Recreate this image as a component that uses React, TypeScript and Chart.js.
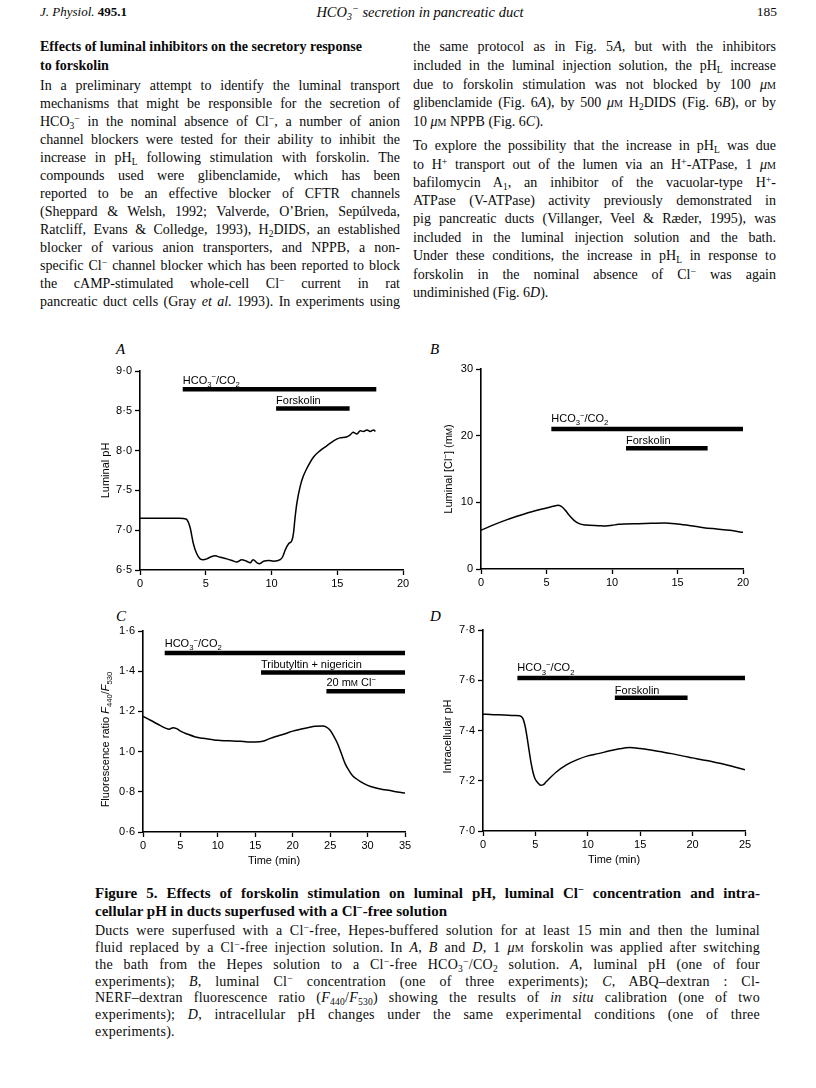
import React, { useEffect, useRef } from 'react';
import { Chart, registerables } from 'chart.js';

Chart.register(...registerables);

// ---------------- Panel A : luminal pH ----------------
const timeA = [0, 1, 2, 3, 3.5, 3.8, 4.06, 4.3, 4.57, 4.8, 5.08, 5.33, 5.7, 6.1, 6.6, 7.0, 7.36, 7.74, 8.1, 8.38, 8.6, 8.9, 9.1, 9.4, 9.8, 10.15, 10.66, 10.86, 11.04, 11.3, 11.55, 11.67, 11.8, 11.93, 12.18, 12.4, 12.7, 13.2, 13.7, 14.2, 14.7, 15.2, 15.7, 16.0, 16.2, 16.5, 16.75, 17.0, 17.26, 17.5, 17.77, 17.9];
const phA = [7.15, 7.15, 7.15, 7.15, 7.14, 7.04, 6.83, 6.71, 6.64, 6.63, 6.64, 6.66, 6.68, 6.66, 6.64, 6.62, 6.60, 6.63, 6.61, 6.59, 6.63, 6.59, 6.58, 6.61, 6.62, 6.61, 6.63, 6.67, 6.75, 6.83, 6.87, 6.96, 7.17, 7.34, 7.55, 7.67, 7.78, 7.92, 8.00, 8.06, 8.12, 8.16, 8.17, 8.20, 8.23, 8.21, 8.25, 8.24, 8.26, 8.24, 8.26, 8.24];
const barStartA = [3.25, 10.35];
const barEndA = [17.97, 15.94];
const barLevelA = [8.77, 8.53];
const barLabelA = ['HCO_3^−/CO_2', 'Forskolin'];
const labelLevelA = [8.89, 8.64];

// ---------------- Panel B : luminal [Cl-] ----------------
const timeB = [0, 1, 2, 3, 4, 5, 5.5, 5.9, 6.2, 6.5, 6.8, 7.1, 7.5, 8, 9, 9.5, 10, 10.5, 11, 12, 13, 14, 15, 16, 17, 18, 19, 20];
const clB = [5.8, 6.65, 7.4, 8.05, 8.65, 9.15, 9.4, 9.55, 9.3, 8.65, 7.9, 7.3, 6.8, 6.6, 6.5, 6.45, 6.55, 6.7, 6.75, 6.8, 6.85, 6.9, 6.75, 6.5, 6.2, 6.0, 5.8, 5.5];
const barStartB = [5.37, 11.07];
const barEndB = [20.1, 17.3];
const barLevelB = [21.0, 18.1];
const barLabelB = ['HCO_3^−/CO_2', 'Forskolin'];
const labelLevelB = [22.65, 19.4];

// ---------------- Panel C : fluorescence ratio ----------------
const timeC = [0, 1, 2, 3, 3.5, 4, 4.5, 5, 6, 7, 8, 9, 10, 11, 12, 13, 14, 15, 16, 17, 18, 19, 20, 21, 22, 23, 24, 24.5, 25, 25.5, 26, 26.5, 27, 27.5, 28, 28.5, 29, 30, 31, 32, 33, 34, 35];
const ratioC = [1.175, 1.156, 1.136, 1.117, 1.111, 1.119, 1.114, 1.102, 1.086, 1.073, 1.066, 1.061, 1.056, 1.054, 1.053, 1.051, 1.048, 1.048, 1.051, 1.066, 1.078, 1.089, 1.102, 1.111, 1.119, 1.126, 1.127, 1.122, 1.106, 1.076, 1.039, 0.990, 0.940, 0.907, 0.880, 0.865, 0.852, 0.832, 0.820, 0.812, 0.806, 0.799, 0.794];
const barStartC = [2.9, 15.77, 24.5];
const barEndC = [35, 35, 35];
const barLevelC = [1.49, 1.394, 1.30];
const barLabelC = ['HCO_3^−/CO_2', 'Tributyltin + nigericin', '20 m~{M} Cl^−'];
const labelLevelC = [1.54, 1.437, 1.346];

// ---------------- Panel D : intracellular pH ----------------
const timeD = [0, 1, 2, 3, 3.5, 3.8, 4.0, 4.2, 4.4, 4.6, 4.8, 5.0, 5.3, 5.5, 5.8, 6, 7, 8, 9, 10, 11, 12, 13, 14, 15, 16, 17, 18, 19, 20, 21, 22, 23, 24, 25];
const phD = [7.465, 7.463, 7.462, 7.460, 7.459, 7.448, 7.421, 7.375, 7.320, 7.268, 7.229, 7.205, 7.189, 7.182, 7.186, 7.195, 7.235, 7.264, 7.284, 7.299, 7.308, 7.318, 7.327, 7.332, 7.328, 7.322, 7.315, 7.308, 7.299, 7.291, 7.283, 7.275, 7.266, 7.255, 7.244];
const barStartD = [3.28, 12.58];
const barEndD = [25, 19.52];
const barLevelD = [7.609, 7.530];
const barLabelD = ['HCO_3^−/CO_2', 'Forskolin'];
const labelLevelD = [7.651, 7.563];

// ---------------- rich text helpers for canvas ----------------
type Seg = { t: string; mode: string; it: boolean };
function parseRich(s: string): Seg[] {
  const out: Seg[] = [];
  let it = false;
  let buf = '';
  const flush = () => {
    if (buf) {
      out.push({ t: buf, mode: 'n', it });
      buf = '';
    }
  };
  for (let i = 0; i < s.length; i++) {
    const c = s[i];
    if (c === '*') {
      flush();
      it = !it;
      continue;
    }
    if (c === '_' || c === '^' || c === '~') {
      flush();
      let t = '';
      if (s[i + 1] === '{') {
        const j = s.indexOf('}', i + 2);
        t = s.slice(i + 2, j);
        i = j;
      } else {
        t = s[i + 1];
        i++;
      }
      out.push({ t, mode: c === '_' ? 'sub' : c === '^' ? 'sup' : 'sc', it });
      continue;
    }
    buf += c;
  }
  flush();
  return out;
}

const SANS = '"Liberation Sans", Arial, Helvetica, sans-serif';

function segFont(sg: Seg, size: number) {
  const s = sg.mode === 'n' ? size : sg.mode === 'sc' ? size * 0.78 : size * 0.7;
  return `${sg.it ? 'italic ' : ''}${s}px ${SANS}`;
}

function drawRich(ctx: any, text: string, x: number, y: number, size: number, align: string) {
  const segs = parseRich(text);
  ctx.save();
  ctx.textBaseline = 'alphabetic';
  ctx.textAlign = 'left';
  ctx.fillStyle = '#000';
  let total = 0;
  const widths = segs.map((sg) => {
    ctx.font = segFont(sg, size);
    const w = ctx.measureText(sg.t).width;
    total += w;
    return w;
  });
  let cx = align === 'center' ? x - total / 2 : x;
  const base = y + size * 0.36;
  segs.forEach((sg, i) => {
    ctx.font = segFont(sg, size);
    const dy = sg.mode === 'sub' ? size * 0.3 : sg.mode === 'sup' ? -size * 0.4 : 0;
    ctx.fillText(sg.t, cx, base + dy);
    cx += widths[i];
  });
  ctx.restore();
}

// ---------------- chart panel ----------------
const YW = 45;
const XH = 25;

function Panel(p: any) {
  const ref = useRef<HTMLCanvasElement | null>(null);
  useEffect(() => {
    const { box, area } = p;
    const padding = {
      left: area.l - box.l - YW,
      top: area.t - box.t,
      right: box.l + box.w - area.r,
      bottom: box.t + box.h - area.b - XH,
    };
    const datasets: any[] = [
      {
        data: p.xs.map((x: number, i: number) => ({ x, y: p.ys[i] })),
        borderColor: '#000',
        borderWidth: 1.5,
        pointRadius: 0,
        cubicInterpolationMode: 'monotone',
        fill: false,
      },
      ...p.barStart.map((s: number, i: number) => ({
        data: [
          { x: s, y: p.barLevel[i] },
          { x: p.barEnd[i], y: p.barLevel[i] },
        ],
        borderColor: '#000',
        borderWidth: 4.5,
        borderCapStyle: 'butt',
        pointRadius: 0,
        fill: false,
      })),
    ];
    const tickFont = { family: SANS, size: 11 };
    const grid = { display: true, drawOnChartArea: false, drawTicks: true, tickLength: 5, tickColor: '#000', tickWidth: 1.3 };
    const border = { display: true, color: '#000', width: 1.6 };
    const annot = {
      id: 'annot',
      afterDatasetsDraw(chart: any) {
        const { ctx, chartArea, scales } = chart;
        const xs = scales.x;
        const ys = scales.y;
        p.barLabels.forEach((t: string, i: number) => {
          drawRich(ctx, t, xs.getPixelForValue(p.barStart[i]), ys.getPixelForValue(p.labelLevel[i]), 11, 'left');
        });
        ctx.save();
        ctx.translate(chartArea.left - p.yTitleOffset, (chartArea.top + chartArea.bottom) / 2 + (p.yTitleShift || 0));
        ctx.rotate(-Math.PI / 2);
        drawRich(ctx, p.yTitle, 0, 0, 11, 'center');
        ctx.restore();
        if (p.xTitle) {
          drawRich(ctx, p.xTitle, (chartArea.left + chartArea.right) / 2, chartArea.bottom + 28, 11, 'center');
        }
      },
    };
    const chart = new Chart(ref.current as HTMLCanvasElement, {
      type: 'line',
      data: { datasets },
      options: {
        responsive: false,
        animation: false,
        devicePixelRatio: 1,
        layout: { padding },
        plugins: { legend: { display: false }, tooltip: { enabled: false } },
        scales: {
          x: {
            type: 'linear',
            min: 0,
            max: p.xMax,
            afterFit: (s: any) => {
              s.height = XH;
            },
            ticks: {
              stepSize: p.xStep,
              color: '#000',
              font: tickFont,
              padding: 2,
              maxRotation: 0,
              autoSkip: false,
              callback: (v: any) => String(v),
            },
            grid,
            border,
          },
          y: {
            type: 'linear',
            min: p.yMin,
            max: p.yMax,
            afterFit: (s: any) => {
              s.width = YW;
            },
            ticks: {
              stepSize: p.yStep,
              color: '#000',
              font: tickFont,
              padding: 3,
              autoSkip: false,
              callback: (v: any) => (p.yDec ? Number(v).toFixed(p.yDec).replace('.', '·') : String(Math.round(Number(v)))),
            },
            grid,
            border,
          },
        },
      } as any,
      plugins: [annot],
    });
    return () => chart.destroy();
  }, []);
  const { box } = p;
  return (
    <canvas
      ref={ref}
      width={box.w}
      height={box.h}
      style={{ position: 'absolute', left: box.l, top: box.t, width: box.w, height: box.h }}
    />
  );
}

// ---------------- page text helpers ----------------
const SERIF = '"Liberation Serif", "Times New Roman", serif';
const Sub = ({ c }: any) => <span style={{ fontSize: '0.68em', lineHeight: 0, verticalAlign: '-0.28em' }}>{c}</span>;
const Sup = ({ c }: any) => <span style={{ fontSize: '0.7em', lineHeight: 0, verticalAlign: '0.45em' }}>{c}</span>;
const UM = () => (
  <>
    <i>μ</i>
    <span style={{ fontVariant: 'small-caps' }}>m</span>
  </>
);
const Cl = () => (
  <>
    Cl<Sup c="−" />
  </>
);
const PHL = () => (
  <>
    pH<Sub c="L" />
  </>
);

function L({ y, x, w, j, size, bold, lh, ls, children }: any) {
  const h = lh || 18;
  return (
    <div
      style={{
        position: 'absolute',
        top: y - h / 2,
        left: x,
        width: w,
        height: h,
        lineHeight: `${h}px`,
        fontSize: size || 14,
        fontWeight: bold ? 'bold' : 'normal',
        letterSpacing: ls || 0,
        whiteSpace: 'nowrap',
        textAlign: j ? 'justify' : 'left',
        textAlignLast: j ? 'justify' : 'left',
        color: '#0a0a0a',
      } as any}
    >
      {children}
    </div>
  );
}

export default function App() {
  const LX = 40;
  const LW = 360;
  const RX = 413;
  const RW = 363;
  const CX = 95;
  const CW = 665;
  const CS = 14;
  const CLS = 0.25;
  return (
    <div
      style={{
        position: 'absolute',
        left: 0,
        top: 0,
        width: 816,
        height: 1088,
        background: '#fff',
        fontFamily: SERIF,
        overflow: 'hidden',
      }}
    >
      {/* running head */}
      <L y={12} x={LX} w={200} size={13}>
        <i>J. Physiol.</i> <b>495.1</b>
      </L>
      <div style={{ position: 'absolute', top: 3, left: 270, width: 300, textAlign: 'center', fontSize: 14.5, lineHeight: '18px', fontStyle: 'italic', color: '#0a0a0a' }}>
        HCO<Sub c="3" />
        <Sup c="−" /> secretion in pancreatic duct
      </div>
      <div style={{ position: 'absolute', top: 3, left: 700, width: 77, textAlign: 'right', fontSize: 13.5, lineHeight: '18px', color: '#0a0a0a' }}>185</div>

      {/* left column */}
      <L y={47} x={LX} w={LW} bold>Effects of luminal inhibitors on the secretory response</L>
      <L y={66} x={LX} w={LW} bold>to forskolin</L>
      <L y={86} x={LX} w={LW} j>In a preliminary attempt to identify the luminal transport</L>
      <L y={104} x={LX} w={LW} j>mechanisms that might be responsible for the secretion of</L>
      <L y={122} x={LX} w={LW} j>
        HCO<Sub c="3" />
        <Sup c="−" /> in the nominal absence of <Cl />, a number of anion
      </L>
      <L y={140} x={LX} w={LW} j>channel blockers were tested for their ability to inhibit the</L>
      <L y={158} x={LX} w={LW} j>
        increase in <PHL /> following stimulation with forskolin. The
      </L>
      <L y={176} x={LX} w={LW} j>compounds used were glibenclamide, which has been</L>
      <L y={194} x={LX} w={LW} j>reported to be an effective blocker of CFTR channels</L>
      <L y={212} x={LX} w={LW} j>(Sheppard &amp; Welsh, 1992; Valverde, O’Brien, Sepúlveda,</L>
      <L y={230} x={LX} w={LW} j>
        Ratcliff, Evans &amp; Colledge, 1993), H<Sub c="2" />DIDS, an established
      </L>
      <L y={248} x={LX} w={LW} j>blocker of various anion transporters, and NPPB, a non-</L>
      <L y={266} x={LX} w={LW} j>
        specific <Cl /> channel blocker which has been reported to block
      </L>
      <L y={284} x={LX} w={LW} j>
        the cAMP-stimulated whole-cell <Cl /> current in rat
      </L>
      <L y={302} x={LX} w={LW} j>
        pancreatic duct cells (Gray <i>et al.</i> 1993). In experiments using
      </L>

      {/* right column */}
      <L y={47} x={RX} w={RW} j>
        the same protocol as in Fig. 5<i>A</i>, but with the inhibitors
      </L>
      <L y={66} x={RX} w={RW} j>
        included in the luminal injection solution, the <PHL /> increase
      </L>
      <L y={85} x={RX} w={RW} j>
        due to forskolin stimulation was not blocked by 100 <UM />
      </L>
      <L y={103} x={RX} w={RW} j>
        glibenclamide (Fig. 6<i>A</i>), by 500 <UM /> H<Sub c="2" />DIDS (Fig. 6<i>B</i>), or by
      </L>
      <L y={122} x={RX} w={RW}>
        10 <UM /> NPPB (Fig. 6<i>C</i>).
      </L>
      <L y={146} x={RX} w={RW} j>
        To explore the possibility that the increase in <PHL /> was due
      </L>
      <L y={165} x={RX} w={RW} j>
        to H<Sup c="+" /> transport out of the lumen via an H<Sup c="+" />-ATPase, 1 <UM />
      </L>
      <L y={183} x={RX} w={RW} j>
        bafilomycin A<Sub c="1" />, an inhibitor of the vacuolar-type H<Sup c="+" />-
      </L>
      <L y={201} x={RX} w={RW} j>ATPase (V-ATPase) activity previously demonstrated in</L>
      <L y={219} x={RX} w={RW} j>pig pancreatic ducts (Villanger, Veel &amp; Ræder, 1995), was</L>
      <L y={238} x={RX} w={RW} j>included in the luminal injection solution and the bath.</L>
      <L y={256} x={RX} w={RW} j>
        Under these conditions, the increase in <PHL /> in response to
      </L>
      <L y={275} x={RX} w={RW} j>
        forskolin in the nominal absence of <Cl /> was again
      </L>
      <L y={293} x={RX} w={RW}>
        undiminished (Fig. 6<i>D</i>).
      </L>

      {/* panel letters */}
      <div style={{ position: 'absolute', left: 116, top: 340, fontSize: 15, fontStyle: 'italic', lineHeight: '18px' }}>A</div>
      <div style={{ position: 'absolute', left: 430, top: 340, fontSize: 15, fontStyle: 'italic', lineHeight: '18px' }}>B</div>
      <div style={{ position: 'absolute', left: 116, top: 607, fontSize: 15, fontStyle: 'italic', lineHeight: '18px' }}>C</div>
      <div style={{ position: 'absolute', left: 430, top: 607, fontSize: 15, fontStyle: 'italic', lineHeight: '18px' }}>D</div>

      <Panel
        box={{ l: 90, t: 340, w: 330, h: 260 }}
        area={{ l: 140, t: 371, r: 403, b: 570 }}
        xs={timeA}
        ys={phA}
        xMax={20}
        xStep={5}
        yMin={6.5}
        yMax={9.0}
        yStep={0.5}
        yDec={1}
        barStart={barStartA}
        barEnd={barEndA}
        barLevel={barLevelA}
        barLabels={barLabelA}
        labelLevel={labelLevelA}
        yTitle="Luminal pH"
        yTitleOffset={35}
      />
      <Panel
        box={{ l: 425, t: 340, w: 340, h: 260 }}
        area={{ l: 481, t: 369, r: 743, b: 569 }}
        xs={timeB}
        ys={clB}
        xMax={20}
        xStep={5}
        yMin={0}
        yMax={30}
        yStep={10}
        yDec={0}
        barStart={barStartB}
        barEnd={barEndB}
        barLevel={barLevelB}
        barLabels={barLabelB}
        labelLevel={labelLevelB}
        yTitle="Luminal [Cl^−] (m~{M})"
        yTitleOffset={33}
      />
      <Panel
        box={{ l: 90, t: 615, w: 330, h: 260 }}
        area={{ l: 143, t: 631, r: 405, b: 832 }}
        xs={timeC}
        ys={ratioC}
        xMax={35}
        xStep={5}
        yMin={0.6}
        yMax={1.6}
        yStep={0.2}
        yDec={1}
        barStart={barStartC}
        barEnd={barEndC}
        barLevel={barLevelC}
        barLabels={barLabelC}
        labelLevel={labelLevelC}
        yTitle="Fluorescence ratio *F*_{440}/*F*_{530}"
        yTitleOffset={38}
        yTitleShift={8}
        xTitle="Time (min)"
      />
      <Panel
        box={{ l: 425, t: 615, w: 340, h: 260 }}
        area={{ l: 483, t: 630, r: 745, b: 831 }}
        xs={timeD}
        ys={phD}
        xMax={25}
        xStep={5}
        yMin={7.0}
        yMax={7.8}
        yStep={0.2}
        yDec={1}
        barStart={barStartD}
        barEnd={barEndD}
        barLevel={barLevelD}
        barLabels={barLabelD}
        labelLevel={labelLevelD}
        yTitle="Intracellular pH"
        yTitleOffset={36}
        yTitleShift={6}
        xTitle="Time (min)"
      />

      {/* caption */}
      <L y={893} x={CX} w={CW} j bold size={15}>
        Figure 5. Effects of forskolin stimulation on luminal pH, luminal <Cl /> concentration and intra-
      </L>
      <L y={911} x={CX} w={CW} bold size={15}>
        cellular pH in ducts superfused with a <Cl />-free solution
      </L>
      <L y={930} x={CX} w={CW} j size={CS} ls={CLS} lh={17}>
        Ducts were superfused with a <Cl />-free, Hepes-buffered solution for at least 15 min and then the luminal
      </L>
      <L y={947} x={CX} w={CW} j size={CS} ls={CLS} lh={17}>
        fluid replaced by a <Cl />-free injection solution. In <i>A</i>, <i>B</i> and <i>D</i>, 1 <UM /> forskolin was applied after switching
      </L>
      <L y={964} x={CX} w={CW} j size={CS} ls={CLS} lh={17}>
        the bath from the Hepes solution to a <Cl />-free HCO<Sub c="3" />
        <Sup c="−" />/CO<Sub c="2" /> solution. <i>A</i>, luminal pH (one of four
      </L>
      <L y={981} x={CX} w={CW} j size={CS} ls={CLS} lh={17}>
        experiments); <i>B</i>, luminal <Cl /> concentration (one of three experiments); <i>C</i>, ABQ–dextran : Cl-
      </L>
      <L y={997} x={CX} w={CW} j size={CS} ls={CLS} lh={17}>
        NERF–dextran fluorescence ratio (<i>F</i>
        <Sub c="440" />/<i>F</i>
        <Sub c="530" />) showing the results of <i>in situ</i> calibration (one of two
      </L>
      <L y={1014} x={CX} w={CW} j size={CS} ls={CLS} lh={17}>
        experiments); <i>D</i>, intracellular pH changes under the same experimental conditions (one of three
      </L>
      <L y={1031} x={CX} w={CW} size={CS} ls={CLS} lh={17}>
        experiments).
      </L>
      <div style={{ position: 'absolute', left: 732, top: 946, width: 2, height: 2, background: '#555', borderRadius: 1 }} />
    </div>
  );
}
